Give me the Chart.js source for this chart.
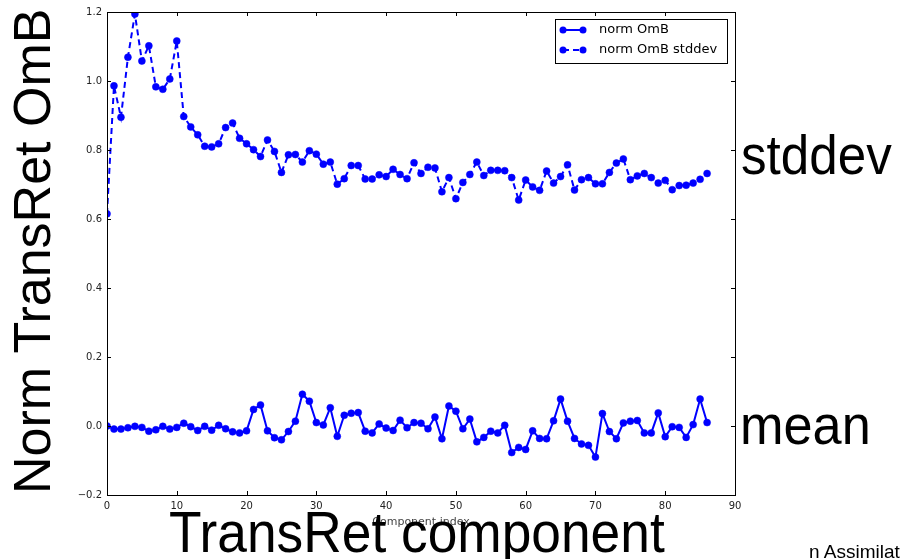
<!DOCTYPE html>
<html>
<head>
<meta charset="utf-8">
<script src="https://cdn.jsdelivr.net/npm/chart.js@4.4.1/dist/chart.umd.min.js"></script>
<style>
  body { margin: 0; background: #fff; }
  #slide { position: relative; width: 900px; height: 559px; overflow: hidden; background: #fff; }
  #omb { position: absolute; left: 0; top: 0; }
  .big { position: absolute; font-family: "Liberation Sans", Arial, sans-serif; color: #000; white-space: nowrap; }
  #ylab { left: 6px; top: 494px; font-size: 52px; line-height: 52px; transform-origin: 0 0; transform: rotate(-90deg); }
  #xlab { left: 169px; top: 504px; font-size: 57px; line-height: 57px; transform-origin: 0 0; transform: scaleX(0.935); }
  #sd { left: 741px; top: 128px; font-size: 55px; line-height: 55px; transform-origin: 0 0; transform: scaleX(0.93); }
  #mn { left: 740px; top: 398px; font-size: 55px; line-height: 55px; transform-origin: 0 0; transform: scaleX(0.95); }
  #foot { left: 809px; top: 542px; font-size: 19px; line-height: 19px; }
</style>
</head>
<body>
<div id="slide">
  <canvas id="omb" width="900" height="559"></canvas>
  <div class="big" id="ylab">Norm TransRet OmB</div>
  <div class="big" id="sd">stddev</div>
  <div class="big" id="mn">mean</div>
  <div class="big" id="xlab">TransRet component</div>
  <div class="big" id="foot">n Assimilation</div>
</div>
<script>
const componentIndex = [
  0, 1, 2, 3, 4, 5, 6, 7, 8, 9, 10, 11, 12, 13, 14, 15, 16, 17, 18, 19,
  20, 21, 22, 23, 24, 25, 26, 27, 28, 29, 30, 31, 32, 33, 34, 35, 36, 37, 38, 39,
  40, 41, 42, 43, 44, 45, 46, 47, 48, 49, 50, 51, 52, 53, 54, 55, 56, 57, 58, 59,
  60, 61, 62, 63, 64, 65, 66, 67, 68, 69, 70, 71, 72, 73, 74, 75, 76, 77, 78, 79,
  80, 81, 82, 83, 84, 85, 86,
];

const normOmB = [
  0.0, -0.009, -0.009, -0.005, -0.001, -0.004, -0.015, -0.011, -0.001, -0.009,
  -0.004, 0.008, -0.002, -0.013, -0.001, -0.012, 0.002, -0.008, -0.017, -0.02,
  -0.014, 0.048, 0.061, -0.014, -0.034, -0.04, -0.016, 0.014, 0.092, 0.072,
  0.01, 0.003, 0.053, -0.03, 0.031, 0.037, 0.039, -0.015, -0.02, 0.006,
  -0.006, -0.013, 0.017, -0.005, 0.01, 0.008, -0.008, 0.026, -0.037, 0.058,
  0.043, -0.008, 0.02, -0.046, -0.033, -0.015, -0.02, 0.002, -0.077, -0.062,
  -0.068, -0.014, -0.036, -0.037, 0.015, 0.078, 0.014, -0.036, -0.052, -0.056,
  -0.09, 0.036, -0.016, -0.037, 0.009, 0.014, 0.016, -0.02, -0.02, 0.038,
  -0.031, -0.002, -0.004, -0.033, 0.004, 0.078, 0.01,
];

const normOmBStddev = [
  0.615, 0.986, 0.895, 1.069, 1.194, 1.058, 1.102, 0.983, 0.976, 1.006,
  1.116, 0.897, 0.867, 0.844, 0.811, 0.809, 0.818, 0.865, 0.878, 0.834,
  0.818, 0.801, 0.781, 0.829, 0.796, 0.735, 0.786, 0.787, 0.765, 0.798,
  0.788, 0.759, 0.765, 0.701, 0.717, 0.755, 0.755, 0.716, 0.716, 0.728,
  0.723, 0.744, 0.729, 0.717, 0.763, 0.732, 0.75, 0.748, 0.679, 0.72,
  0.659, 0.706, 0.729, 0.765, 0.726, 0.741, 0.741, 0.74, 0.72, 0.655,
  0.713, 0.693, 0.683, 0.739, 0.704, 0.723, 0.757, 0.684, 0.714, 0.72,
  0.702, 0.702, 0.735, 0.762, 0.774, 0.714, 0.725, 0.732, 0.72, 0.704,
  0.712, 0.685, 0.697, 0.698, 0.704, 0.715, 0.732,
];

const xTicks = { min: 0, max: 90, step: 10 };
const yTicks = { min: -0.2, max: 1.2, step: 0.2 };

const toPoints = (ys) => componentIndex.map((x, i) => ({ x, y: ys[i] }));

// matplotlib-ish frame with inward ticks, plus the legend box inside the axes
const framePlugin = {
  id: "frame",
  afterDraw(chart) {
    const { ctx, chartArea: a, scales } = chart;
    ctx.save();
    ctx.strokeStyle = "#000";
    ctx.lineWidth = 1;
    ctx.strokeRect(a.left + 0.5, a.top + 0.5, a.right - a.left, a.bottom - a.top);

    const len = 4;
    ctx.beginPath();
    scales.x.ticks.forEach((t) => {
      const px = Math.round(scales.x.getPixelForValue(t.value)) + 0.5;
      ctx.moveTo(px, a.bottom);
      ctx.lineTo(px, a.bottom - len);
      ctx.moveTo(px, a.top);
      ctx.lineTo(px, a.top + len);
    });
    scales.y.ticks.forEach((t) => {
      const py = Math.round(scales.y.getPixelForValue(t.value)) + 0.5;
      ctx.moveTo(a.left, py);
      ctx.lineTo(a.left + len, py);
      ctx.moveTo(a.right, py);
      ctx.lineTo(a.right - len, py);
    });
    ctx.stroke();

    // legend
    const boxW = 172;
    const boxH = 44;
    const bx = a.right - 8 - boxW;
    const by = a.top + 7;
    ctx.fillStyle = "#fff";
    ctx.fillRect(bx, by, boxW, boxH);
    ctx.strokeStyle = "#000";
    ctx.strokeRect(bx + 0.5, by + 0.5, boxW, boxH);

    ctx.font = '13px "DejaVu Sans"';
    ctx.textBaseline = "middle";
    chart.data.datasets.forEach((ds, i) => {
      const y = by + 11 + i * 20;
      const x0 = bx + 8;
      const x1 = bx + 28;
      ctx.strokeStyle = ds.borderColor;
      ctx.lineWidth = ds.borderWidth;
      ctx.setLineDash(ds.borderDash || []);
      ctx.beginPath();
      ctx.moveTo(x0, y);
      ctx.lineTo(x1, y);
      ctx.stroke();
      ctx.setLineDash([]);
      ctx.fillStyle = ds.pointBackgroundColor;
      [x0, x1].forEach((x) => {
        ctx.beginPath();
        ctx.arc(x, y, 3.5, 0, Math.PI * 2);
        ctx.fill();
      });
      ctx.fillStyle = "#000";
      ctx.fillText(ds.label, bx + 44, y);
    });
    ctx.restore();
  },
};

const tickFont = { family: "DejaVu Sans", size: 10 };

new Chart(document.getElementById("omb"), {
  type: "line",
  data: {
    datasets: [
      {
        label: "norm OmB",
        data: toPoints(normOmB),
        borderColor: "#0000ff",
        borderWidth: 2,
        pointBackgroundColor: "#0000ff",
        pointBorderColor: "#0000ff",
        pointRadius: 3.5,
        pointBorderWidth: 0.5,
        tension: 0,
      },
      {
        label: "norm OmB stddev",
        data: toPoints(normOmBStddev),
        borderColor: "#0000ff",
        borderWidth: 2,
        borderDash: [6, 4],
        pointBackgroundColor: "#0000ff",
        pointBorderColor: "#0000ff",
        pointRadius: 3.5,
        pointBorderWidth: 0.5,
        tension: 0,
      },
    ],
  },
  options: {
    responsive: false,
    animation: false,
    layout: { padding: { left: 0, top: 12, right: 165, bottom: 0 } },
    plugins: {
      legend: { display: false },
      tooltip: { enabled: false },
    },
    scales: {
      x: {
        type: "linear",
        min: xTicks.min,
        max: xTicks.max,
        ticks: {
          stepSize: xTicks.step,
          font: tickFont,
          color: "#222",
          padding: 5,
          maxRotation: 0,
        },
        grid: { display: false, drawTicks: false },
        border: { display: false },
        title: {
          display: true,
          text: "Component index",
          font: { family: "DejaVu Sans", size: 11 },
          color: "#444",
          padding: { top: 0, bottom: 30 },
        },
        afterFit: (s) => {
          s.height = 64;
        },
      },
      y: {
        type: "linear",
        min: yTicks.min,
        max: yTicks.max,
        ticks: {
          stepSize: yTicks.step,
          font: tickFont,
          color: "#222",
          padding: 5,
          callback: (v) => (Math.round(v * 10) / 10).toFixed(1).replace("-", "\u2212"),
        },
        grid: { display: false, drawTicks: false },
        border: { display: false },
        afterFit: (s) => {
          s.width = 107;
        },
      },
    },
  },
  plugins: [framePlugin],
});
</script>
</body>
</html>
